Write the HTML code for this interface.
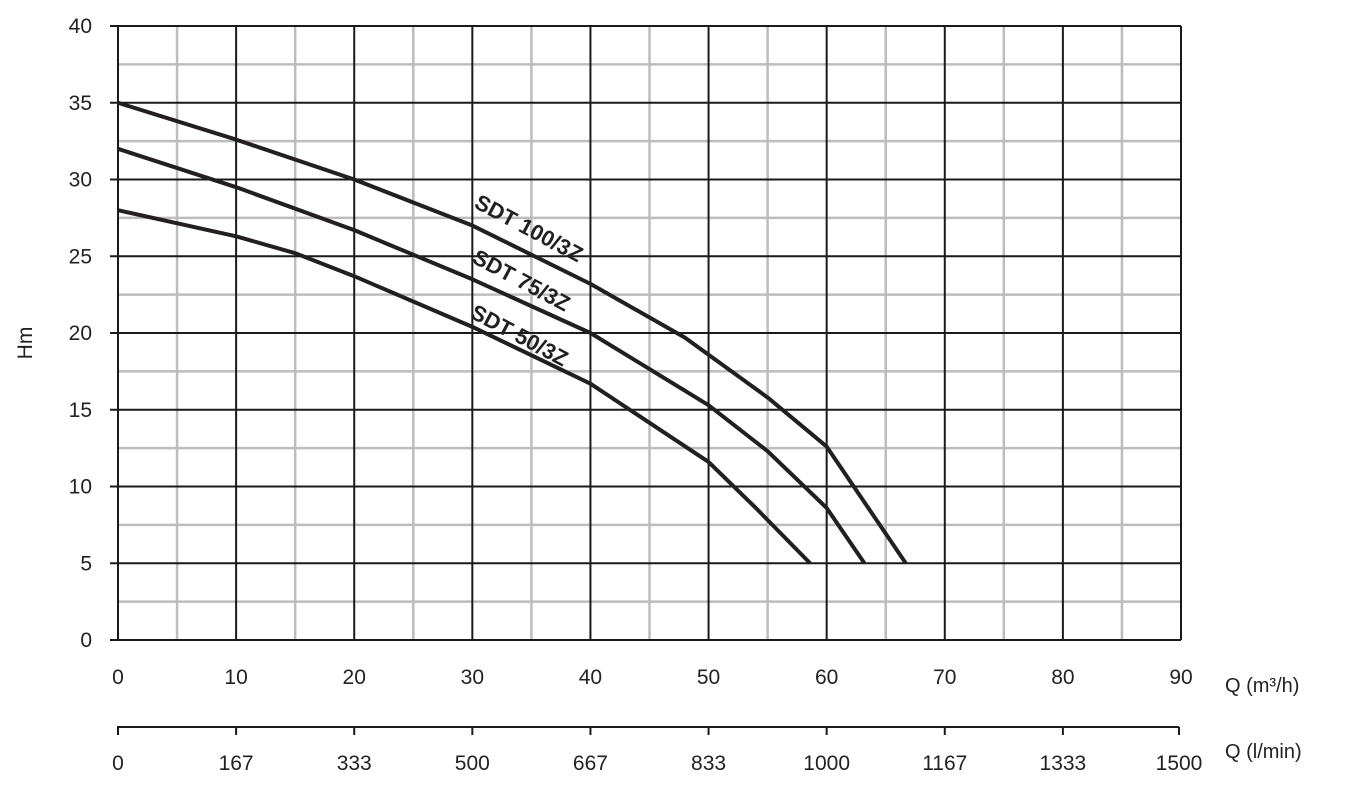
<!DOCTYPE html>
<html><head><meta charset="utf-8"><style>
body{margin:0;background:#fff}
svg{display:block;font-family:"Liberation Sans",sans-serif}
</style></head><body>
<svg id="c" width="1368" height="785" viewBox="0 0 1368 785"></svg>
<script>
const xTicks=[0,10,20,30,40,50,60,70,80,90];
const yTicks=[0,5,10,15,20,25,30,35,40];
const lpmLabels=["0","167","333","500","667","833","1000","1167","1333","1500"];
const s100Q=[0,10,20,30,40,48,55,60,66.7];
const s100H=[35,32.6,30,27,23.2,19.7,15.8,12.6,5];
const s75Q=[0,10,20,30,40,50,55,60,63.2];
const s75H=[32,29.5,26.7,23.5,20,15.3,12.3,8.6,5];
const s50Q=[0,10,15,20,30,40,50,54,58.6];
const s50H=[28,26.3,25.2,23.7,20.4,16.7,11.6,8.6,5];
const labels=[["SDT 100/3Z",473,207],["SDT 75/3Z",471,262],["SDT 50/3Z",469,317]];
const X=q=>118+q*(1181-118)/90, Y=h=>640-h*(640-26)/40;
const svg=document.getElementById('c');const NS='http://www.w3.org/2000/svg';
function mk(t,a,p){const e=document.createElementNS(NS,t);for(const k in a)e.setAttribute(k,a[k]);(p||svg).appendChild(e);return e;}
for(let q=5;q<90;q+=10){const l=mk('line',{x1:X(q),x2:X(q),y1:Y(0),y2:Y(40),stroke:'#bdbdbd','stroke-width':2.5});

}
for(let h=2.5;h<40;h+=5){const l=mk('line',{x1:X(0),x2:X(90),y1:Y(h),y2:Y(h),stroke:'#bdbdbd','stroke-width':2.5});

}
xTicks.forEach((q,i)=>{const l=mk('line',{x1:X(q),x2:X(q),y1:Y(0),y2:Y(40)+0,stroke:'#1a1a1a','stroke-width':2});


const t=mk('text',{x:X(q),y:684,'text-anchor':'middle','font-size':21,fill:'#222'});t.textContent=q;


const tk=mk('line',{x1:X(q)-(i==9?2:0),x2:X(q)-(i==9?2:0),y1:727,y2:735,stroke:'#1a1a1a','stroke-width':2});


const t2=mk('text',{x:X(q)-(i==9?2:0),y:770,'text-anchor':'middle','font-size':21,fill:'#222'});t2.textContent=lpmLabels[i];

});
yTicks.forEach(h=>{const l=mk('line',{x1:X(0)-8,x2:X(90),y1:Y(h),y2:Y(h),stroke:'#1a1a1a','stroke-width':2});


const t=mk('text',{x:92,y:Y(h)+7,'text-anchor':'end','font-size':21,fill:'#222'});t.textContent=h;

});
const ax2=mk('line',{x1:117,x2:1179,y1:727,y2:727,stroke:'#1a1a1a','stroke-width':2});


[[s100Q,s100H,'curve-sdt-100'],[s75Q,s75H,'curve-sdt-75'],[s50Q,s50H,'curve-sdt-50']].forEach(([qs,hs,n])=>{
const p=mk('polyline',{points:qs.map((q,i)=>X(q)+','+Y(hs[i])).join(' '),fill:'none',stroke:'#231f20','stroke-width':4,'stroke-linejoin':'round'});

});
labels.forEach(([s,x,y])=>{const t=mk('text',{x:x,y:y,'font-size':22,'font-weight':'bold',fill:'#231f20',transform:`rotate(28 ${x} ${y})`});t.textContent=s;

});
const yt=mk('text',{x:32,y:343,'text-anchor':'middle','font-size':21,fill:'#222',transform:'rotate(-90 32 343)'});yt.textContent='Hm';


const x1=mk('text',{x:1225,y:692,'font-size':20,fill:'#222'});x1.textContent='Q (m³/h)';


const x2=mk('text',{x:1225,y:758,'font-size':20,fill:'#222'});x2.textContent='Q (l/min)';


</script>
</body></html>
